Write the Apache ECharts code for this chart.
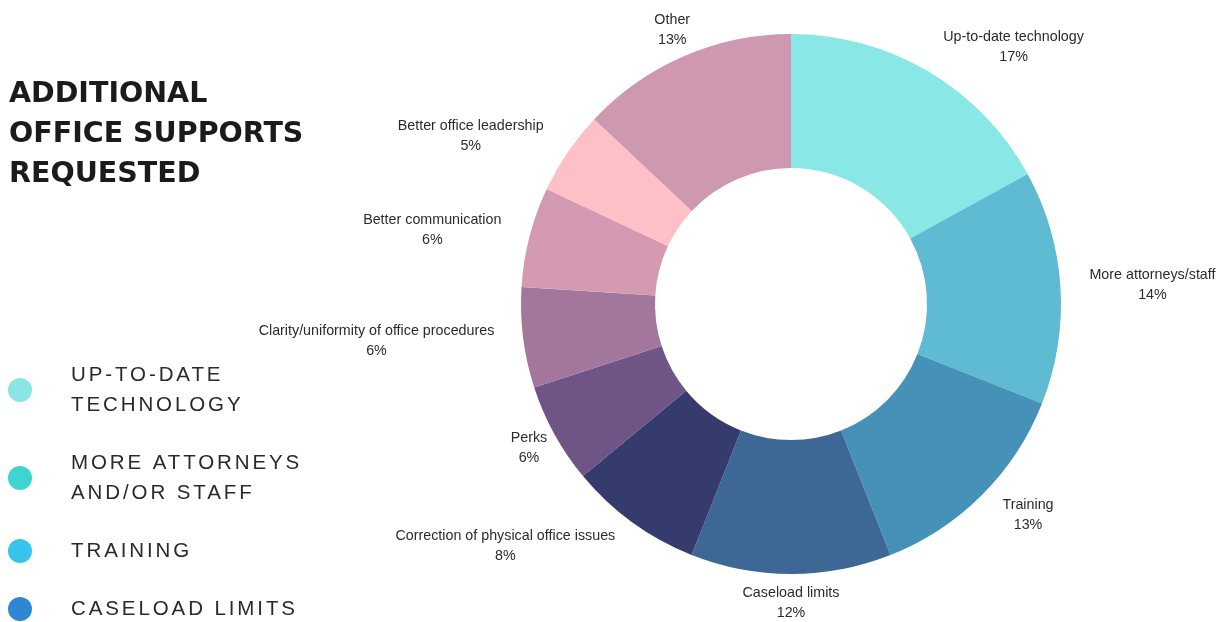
<!DOCTYPE html>
<html>
<head>
<meta charset="utf-8">
<title>Additional office supports requested</title>
<script src="https://cdn.jsdelivr.net/npm/echarts@6/dist/echarts.min.js"></script>
<style>
  html, body { margin: 0; padding: 0; background: #ffffff; }
  #chart { width: 1226px; height: 622px; }
</style>
</head>
<body>
<div id="chart"></div>
<script>
// ---- data ----
const categories = [
  'Up-to-date technology',
  'More attorneys/staff',
  'Training',
  'Caseload limits',
  'Correction of physical office issues',
  'Perks',
  'Clarity/uniformity of office procedures',
  'Better communication',
  'Better office leadership',
  'Other'
];
const shares = [17, 14, 13, 12, 8, 6, 6, 6, 5, 13];
const sliceColors = [
  '#89e8e5', '#5ebbd2', '#4691b7', '#3d6795', '#353b6d',
  '#6e5585', '#a3779c', '#d39ab2', '#fdc0c6', '#ce98b1'
];

const titleLines = ['ADDITIONAL', 'OFFICE SUPPORTS', 'REQUESTED'];
const legendNames = categories.slice(0, 4);
const legendLabels = ['UP-TO-DATE\nTECHNOLOGY', 'MORE ATTORNEYS\nAND/OR STAFF', 'TRAINING', 'CASELOAD LIMITS'];
const legendColors = ['#8ae5e4', '#3ed5cf', '#36c4eb', '#2d87d3'];

// ---- layout ----
const PIE_CENTER = [791, 304];
const PIE_RADIUS = [136, 270];
const LABEL_FONT = "'Liberation Sans', Arial, sans-serif";
const TRACKED_FONT = "'Liberation Sans', Helvetica, sans-serif"; // letter-spaced legend type
const TRACKING = '2.9px';

// Canvas text has no letter-spacing option in the style API, so apply it
// at draw time to text set in the tracked legend font.
if ('letterSpacing' in CanvasRenderingContext2D.prototype) {
  const baseFillText = CanvasRenderingContext2D.prototype.fillText;
  CanvasRenderingContext2D.prototype.fillText = function (text, x, y, maxWidth) {
    const prev = this.letterSpacing;
    this.letterSpacing = this.font.indexOf('Helvetica') >= 0 ? TRACKING : '0px';
    const out = maxWidth === undefined
      ? baseFillText.call(this, text, x, y)
      : baseFillText.call(this, text, x, y, maxWidth);
    this.letterSpacing = prev;
    return out;
  };
}

const chart = echarts.init(document.getElementById('chart'), null, { renderer: 'canvas' });

// Centre a label on its anchor when the centred box stays clear of the ring,
// otherwise keep it aligned away from the pie.
function placeLabel(p) {
  const r = p.labelRect;
  const cx = PIE_CENTER[0], cy = PIE_CENTER[1];
  const rightSide = r.x + r.width / 2 >= cx;
  const ax = rightSide ? r.x : r.x + r.width;
  const ay = r.y + r.height / 2;
  const nx = Math.max(ax - r.width / 2, Math.min(cx, ax + r.width / 2));
  const ny = Math.max(ay - r.height / 2, Math.min(cy, ay + r.height / 2));
  if (Math.hypot(nx - cx, ny - cy) >= PIE_RADIUS[1] + 2) {
    return { x: ax, align: 'center' };
  }
  return {};
}

chart.setOption({
  animation: false,
  backgroundColor: '#ffffff',
  title: {
    text: titleLines.join('\n'),
    left: 9,
    top: 75,
    padding: 0,
    textStyle: {
      fontFamily: "'DejaVu Sans', sans-serif",
      fontWeight: 'bold',
      fontSize: 28.5,
      lineHeight: 40,
      color: '#1b1b1b'
    }
  },
  legend: {
    orient: 'vertical',
    left: 8,
    top: 360,
    padding: 0,
    itemGap: 28,
    itemWidth: 24,
    itemHeight: 24,
    icon: 'circle',
    selectedMode: false,
    data: legendNames.map((name, i) => ({ name: name, itemStyle: { color: legendColors[i] } })),
    formatter: name => legendLabels[legendNames.indexOf(name)],
    textStyle: {
      fontFamily: TRACKED_FONT,
      fontSize: 20.5,
      lineHeight: 30,
      color: '#2a2a2a',
      padding: [0, 0, 0, 34]
    }
  },
  series: [{
    type: 'pie',
    center: PIE_CENTER,
    radius: PIE_RADIUS,
    startAngle: 90,
    clockwise: true,
    avoidLabelOverlap: false,
    emphasis: { scale: false },
    data: categories.map((name, i) => ({
      name: name,
      value: shares[i],
      itemStyle: { color: sliceColors[i] }
    })),
    label: {
      show: true,
      position: 'outside',
      formatter: '{n|{b}}\n{n|{c}%}',
      distanceToLabelLine: 0,
      bleedMargin: 0,
      overflow: 'none',
      rich: {
        n: {
          align: 'center',
          fontFamily: LABEL_FONT,
          fontSize: 14.3,
          lineHeight: 20,
          color: '#2b2b2b'
        }
      }
    },
    labelLine: { show: false, length: 29, length2: 0 },
    labelLayout: placeLabel
  }]
});
</script>
</body>
</html>
